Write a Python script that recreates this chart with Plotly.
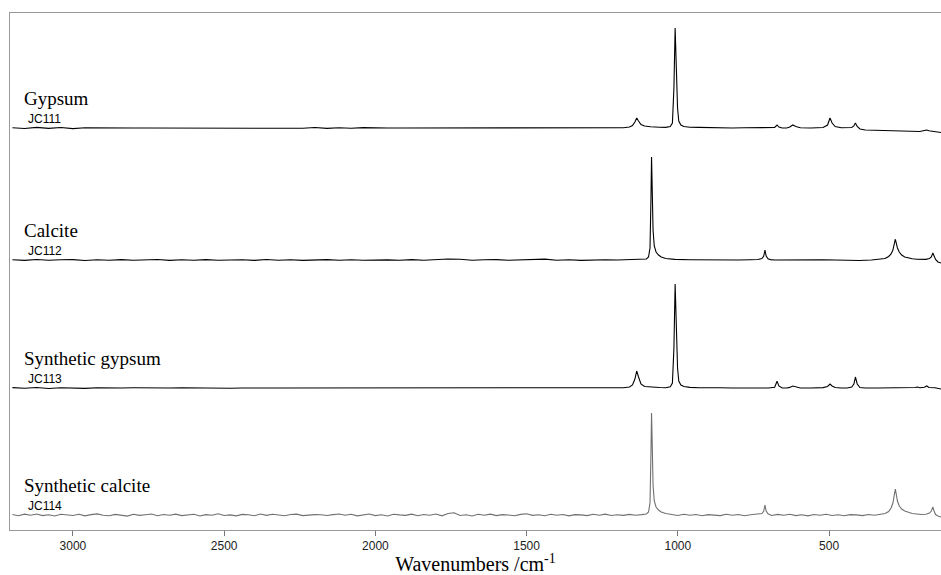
import plotly.graph_objects as go

# ---------------- data ----------------
names = ["Gypsum", "Calcite", "Synthetic gypsum", "Synthetic calcite"]
codes = ["JC111", "JC112", "JC113", "JC114"]
offsets = [402, 270, 142, 15]          # stacking offset of each spectrum (a.u.)
tick_vals = [3000, 2500, 2000, 1500, 1000, 500]

# Gypsum (JC111)
gyp_base_wn = list(range(3200, 1199, -40))
gyp_base_int = [0.3, -0.5, 0.6, -0.4, 0.5, -0.6, 0.2, 0, 0, 0.2,
                0, 0, 0, 0, 0, 0.3, 0, 0, 0, 0,
                0, 0, 0, 0.4, -0.3, 0.5, -0.4, 0.3, -0.2, 0.4,
                0, 0, 0, 0, 0.2, 0, -0.2, 0.3, 0, 0,
                0, 0, 0, 0.3, -0.3, 0.2, 0, 0.3, -0.2, 0.2,
                0]
gyp_peak_wn = [1180, 1160, 1150, 1142, 1136, 1130, 1122, 1110, 1090, 1060,
               1040, 1025, 1018, 1013, 1009, 1005, 1001, 997, 990, 980,
               960, 930, 900, 860, 820, 780, 700, 680, 672, 666,
               655, 640, 630, 620, 610, 595, 560, 520, 505, 497,
               490, 480, 460, 440, 425, 418, 413, 407, 398, 380,
               340, 300, 260, 230, 200, 185, 177, 170, 150, 130]
gyp_peak_int = [0.3, 1, 2.5, 6, 10, 7, 3.5, 2, 1.2, 0.8,
                0.6, 1.5, 5, 40, 100, 60, 20, 7, 3, 1.5,
                0.8, 0.6, 0.3, 0.3, 0, 0.2, 0, 0.5, 3, 1,
                0, 0, 1, 3, 1.5, 0.3, 0, 0.5, 3, 10,
                5, 1.5, 0.3, 0, 0.5, 2, 5, 1.5, -1, -2,
                -2.5, -2.5, -3, -3.5, -3.5, -2.5, -2, -2.8, -4, -4.5]

# Calcite (JC112)
cal_base_wn = list(range(3200, 1199, -40))
cal_base_int = [0.3, -0.4, 0.5, -0.3, 0.2, 0.4, -0.5, 0.3, -0.2, 0.4,
                -0.3, 0.2, 0.5, -0.4, 0.3, -0.2, 0.4, -0.3, 0.2, 0.3,
                -0.4, 0.5, -0.2, 0.3, -0.4, 0.2, 0.4, -0.3, 0.2, -0.2,
                0.3, 0.1, -0.3, 0.4, -0.2, 0.3, 1.0, 0.7, -0.3, 0.2,
                0.4, -0.3, 0.2, 0.3, 0.9, -0.2, 0.3, -0.4, 0.2, 0.3,
                0]
cal_peak_wn = [1160, 1120, 1104, 1097, 1092, 1089, 1087, 1085, 1082, 1078,
               1072, 1064, 1055, 1040, 1010, 960, 900, 850, 800, 760,
               735, 722, 716, 712, 708, 702, 694, 680, 640, 600,
               560, 520, 480, 440, 400, 360, 330, 315, 303, 295,
               289, 284, 281, 278, 274, 268, 260, 250, 238, 225,
               210, 195, 180, 168, 162, 157, 153, 148, 140, 130]
cal_peak_int = [0.2, 0.4, 1, 3, 12, 60, 103, 75, 30, 14,
                8, 5, 3, 1.5, 0.6, 0.3, 0, 0.2, 0, 0.3,
                0.5, 1.5, 4, 10, 4, 1.2, 0.4, 0, 0.2, -0.2,
                0, 0.3, 0, -0.3, -0.5, 0, 0.5, 1.5, 3.5, 6,
                10, 16, 21, 17, 12, 8, 5, 3, 2, 1.2,
                0.8, 0.5, 0.6, 1.5, 3, 7, 4, 0.5, -2, -3]

# Synthetic gypsum (JC113)
sg_base_wn = list(range(3200, 1199, -40))
sg_base_int = [0.4, -0.3, 0.5, -0.5, 0.3, 0.2, -0.4, 0.3, 0, 0,
               0.2, 0, 0, 0, 0.3, 0, 0, 0, -0.2, 0,
               0.3, 0, 0, 0, 0, 0.2, 0, 0, -0.3, 0.3,
               0, 0, 0.2, 0, 0, 0, 0, 0.2, 0, 0,
               0, 0, 0.3, 0, 0, 0, 0, 0, -0.2, 0,
               0]
sg_peak_wn = [1180, 1160, 1150, 1142, 1136, 1130, 1122, 1110, 1090, 1060,
              1040, 1025, 1018, 1013, 1009, 1005, 1001, 997, 990, 980,
              960, 930, 900, 860, 820, 780, 700, 680, 672, 666,
              655, 640, 630, 620, 610, 595, 560, 520, 505, 497,
              490, 480, 460, 440, 425, 418, 413, 407, 398, 380,
              340, 300, 260, 230, 215, 208, 200, 185, 177, 170, 150, 130]
sg_peak_int = [0.3, 1, 3, 9, 17, 11, 4, 1.5, 0.8, 0.5,
               0.3, 1.2, 5, 40, 104, 60, 20, 7, 3, 1.5,
               0.6, 0.3, 0, 0.2, 0, 0, 0, 0.8, 6.7, 2,
               0, 0, 0.6, 2, 1, 0, 0, 0.4, 1.5, 4,
               2, 0.5, 0, 0, 1, 4, 11, 4, 0.5, 0,
               0, 0, 0, 0, 0.5, 1, 0.3, 0.8, 2, 0.5, 0.3, -1]

# Synthetic calcite (JC114)
sc_a_wn = list(range(3200, 1119, -20))
sc_a_int = [0.5, -0.8, 0.9, -0.3, 1.0, -0.6, 0.2, -1.0, 0.7, 0.1,
            -0.5, 0.8, -0.9, 0.4, 1.1, -0.2, -0.7, 0.6, 0.0, -1.1,
            0.8, -0.4, 0.3, 1.0, -0.8, 0.5, -0.3, 0.9, -0.6, 0.2,
            0.7, -1.0, 0.4, -0.2, 1.2, -0.5, 0.1, -0.9, 0.6, 0.3,
            -0.7, 1.0, -0.4, 0.8, -0.1, -0.8, 0.5, 0.9, -0.6, 0.2,
            0.4, 0.3, -0.5, 0.4, 1.0, -0.3, 0.7, -0.9, 0.4, 1.0,
            -0.6, 0.3, -1.0, 0.8, 0.1, -0.4, 0.9, -0.7, 0.5, -0.2,
            1.0, -0.8, 1.5, 2.2, -0.5, 0.2, -1.0, 0.7, -0.3, 0.9,
            -0.6, 0.4, 0.0, -0.8, 0.6, 1.2, -0.4, 0.3, -0.7, 0.8,
            -0.2, 0.5, -0.9, 0.4, 0.1, -0.6, 0.7, -0.3, 0.9, -0.5,
            0.2, -0.4, 0.6, -0.2, 0.4]
sc_p1_wn = [1104, 1097, 1092, 1089, 1087, 1085, 1082, 1078, 1072, 1064, 1055]
sc_p1_int = [1, 3, 12, 60, 102, 75, 30, 14, 8, 5, 3]
sc_b_wn = list(range(1040, 729, -20))
sc_b_int = [1.5, 0.6, -0.5, 0.8, -0.3, 0.5, -0.7, 0.4, 0.1, -0.6,
            0.7, -0.2, 0.5, -0.8, 0.3, 0.6]
sc_p2_wn = [722, 716, 712, 708, 702]
sc_p2_int = [1.5, 4, 10, 4, 1.2]
sc_c_wn = list(range(690, 329, -20))
sc_c_int = [-0.5, 0.6, -0.3, 0.8, -0.6, 0.2, -0.9, 0.5, -0.2, 0.7,
            -0.5, 0.3, -0.8, 0.4, 0.1, -0.6, 0.5, -0.3, 0.7]
sc_p3_wn = [315, 303, 295, 289, 284, 281, 278, 274, 268, 260,
            250, 238, 225, 210, 195, 180, 168, 162, 157, 153,
            148, 140, 130]
sc_p3_int = [1.5, 3.5, 7, 12, 20, 26, 21, 14, 9, 6,
             4, 2.5, 1.5, 1, 0.5, 0.8, 2, 4, 8, 4,
             0.5, -1, -2]

spectra_wn = [
    gyp_base_wn + gyp_peak_wn,
    cal_base_wn + cal_peak_wn,
    sg_base_wn + sg_peak_wn,
    sc_a_wn + sc_p1_wn + sc_b_wn + sc_p2_wn + sc_c_wn + sc_p3_wn,
]
spectra_int = [
    gyp_base_int + gyp_peak_int,
    cal_base_int + cal_peak_int,
    sg_base_int + sg_peak_int,
    sc_a_int + sc_p1_int + sc_b_int + sc_p2_int + sc_c_int + sc_p3_int,
]
for w, i in zip(spectra_wn, spectra_int):
    assert len(w) == len(i), (len(w), len(i))

# ---------------- styling ----------------
line_colors = ["#000000", "#000000", "#000000", "#707070"]
serif = "Liberation Serif, Times New Roman, serif"
sans = "Liberation Sans, Arial, sans-serif"

fig = go.Figure()
for k in range(4):
    fig.add_trace(go.Scatter(
        x=spectra_wn[k],
        y=[v + offsets[k] for v in spectra_int[k]],
        mode="lines",
        line=dict(color=line_colors[k], width=1.1),
        showlegend=False,
        hoverinfo="skip",
    ))
    fig.add_annotation(x=0.0125, xref="paper", y=offsets[k] + 30, yref="y",
                       text=names[k], showarrow=False, xanchor="left",
                       yanchor="middle", font=dict(family=serif, size=19, color="#000"))
    fig.add_annotation(x=0.017, xref="paper", y=offsets[k] + 9, yref="y",
                       text=codes[k], showarrow=False, xanchor="left",
                       yanchor="middle", font=dict(family=sans, size=12, color="#000"))

fig.update_layout(
    width=941, height=575,
    margin=dict(l=10, r=0, t=13, b=45),
    paper_bgcolor="white", plot_bgcolor="white",
    xaxis=dict(
        range=[3208, 130], tickvals=tick_vals,
        ticks="outside", ticklen=5, tickcolor="#777", tickwidth=1,
        showline=True, linecolor="#999", linewidth=1, mirror=True,
        showgrid=False, zeroline=False,
        tickfont=dict(family=sans, size=12, color="#222"),
        title=dict(text="Wavenumbers /cm<sup>-1</sup>", standoff=4,
                   font=dict(family=serif, size=20, color="#000")),
    ),
    yaxis=dict(
        range=[0, 517], showticklabels=False, ticks="",
        showline=True, linecolor="#999", linewidth=1, mirror=False,
        showgrid=False, zeroline=False,
    ),
)

fig.write_html("out.html")
